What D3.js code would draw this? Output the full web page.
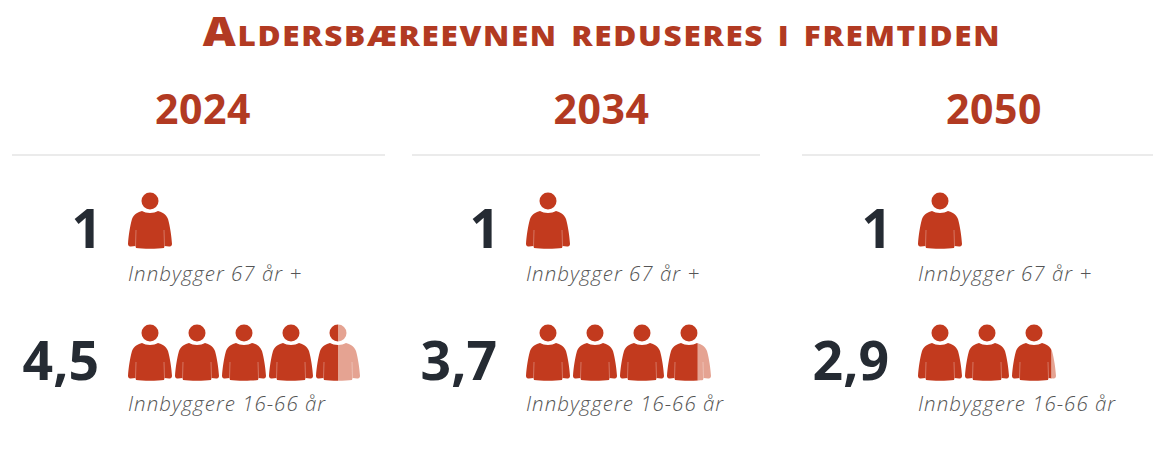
<!DOCTYPE html>
<html><head><meta charset="utf-8">
<script src="https://cdn.jsdelivr.net/npm/d3@7"></script>
<style>html,body{margin:0;padding:0;background:#fff}svg{display:block}</style>
</head><body><div id="c"></div>
<script>
const title = "Aldersbæreevnen reduseres i fremtiden";
const years = ["2024","2034","2050"];
const seniors = [1,1,1];
const workers = [4.5,3.7,2.9];
const seniorLabel = "Innbygger 67 år +";
const workerLabel = "Innbyggere 16-66 år";
const numberFormat = v => String(v).replace(".",",");

const layout = [
 {left:12,right:385,center:203,iconX:128,numX:99},
 {left:412,right:760,center:601.5,iconX:526,numX:497},
 {left:802,right:1153,center:994,iconX:918,numX:889}
];
const RED="#c23a1e", TXT="#b23a22", DARK="#252b33";
const iconW=44, pitch=47;
const svg=d3.select("#c").append("svg").attr("width",1153).attr("height",452);
const defs=svg.append("defs");
svg.append("text").attr("transform","translate(602,46) scale(1.11,1)").attr("text-anchor","middle")
 .style("font-family","Open Sans").style("font-weight",800).style("font-size","41px")
 .style("font-variant","small-caps").style("letter-spacing","1.5px").attr("fill",TXT).text(title);

const personPath="M-8,-15 C-12,-14 -16,-12 -18,-7 C-20,0 -21.5,10 -22,18 C-22,20 -20.5,20.5 -19,20.5 L-14.5,20 L-14,22 C-8,23 8,23 14,22 L14.5,20 L19,20.5 C20.5,20.5 22,20 22,18 C21.5,10 20,0 18,-7 C16,-12 12,-14 8,-15 C4,-12.5 -4,-12.5 -8,-15 Z";
function person(g,fill,clip){
  const p=g.append("g").attr("fill",fill);
  if(clip)p.attr("clip-path",`url(#${clip})`);
  p.append("circle").attr("cx",0).attr("cy",-25).attr("r",8.5);
  p.append("path").attr("d",personPath);
  [-1,1].forEach(s=>p.append("path").attr("d",`M${s*14},4 L${s*14.5},20`).attr("stroke","#fff").attr("stroke-opacity",0.3).attr("stroke-width",1).attr("fill","none"));
}
function row(col,i,value,y,label,ly,key,nudge){
  const x=d3.scaleLinear().domain([0,1]).range([col.iconX,col.iconX+pitch]);
  svg.append("text").attr("x",col.numX+nudge).attr("y",y+22).attr("text-anchor","end")
    .style("font-family","Open Sans").style("font-weight",700).style("font-size","53.5px").attr("fill",DARK).text(numberFormat(value));
  d3.range(Math.ceil(value)).forEach(k=>{
    const g=svg.append("g").attr("transform",`translate(${x(k)+iconW/2},${y})`);
    const frac=Math.min(1,value-k);
    if(frac>=1){person(g,RED);return;}
    const id=`c${i}${key}${k}`;
    defs.append("clipPath").attr("id",id+"a").append("rect").attr("x",-iconW/2).attr("y",-40).attr("width",iconW*frac).attr("height",80);
    defs.append("clipPath").attr("id",id+"b").append("rect").attr("x",-iconW/2+iconW*frac).attr("y",-40).attr("width",iconW*(1-frac)).attr("height",80);
    person(g,RED,id+"a");person(g,"#e5a392",id+"b");
  });
  svg.append("text").attr("x",col.iconX).attr("y",ly)
    .style("font-family","Open Sans").style("font-weight",300).style("font-style","italic").style("font-size","20.5px").style("letter-spacing","1px").attr("fill","#555").text(label);
}
years.forEach((yr,i)=>{
  const c=layout[i];
  svg.append("text").attr("x",c.center).attr("y",124).attr("text-anchor","middle")
    .style("font-family","Open Sans").style("font-weight",700).style("font-size","41px").style("letter-spacing","0.6px").attr("fill",TXT).text(yr);
  svg.append("line").attr("x1",c.left).attr("x2",c.right).attr("y1",155).attr("y2",155).attr("stroke","#e4e4e4").attr("stroke-width",1.5);
  row(c,i,seniors[i],226,seniorLabel,281,"s",3);
  row(c,i,workers[i],358,workerLabel,411,"w",0);
});
</script></body></html>
